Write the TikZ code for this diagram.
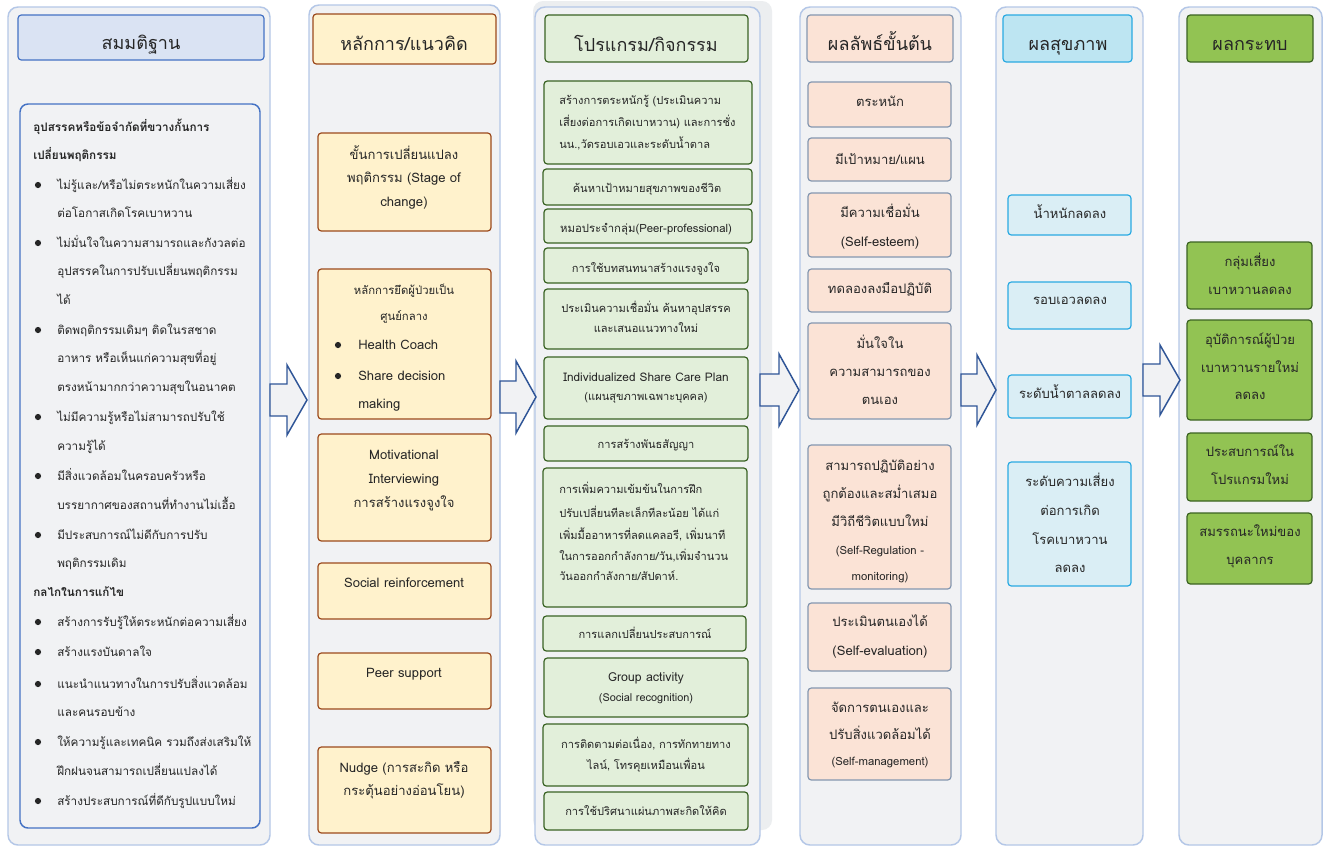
\documentclass[tikz,border=0pt]{standalone}
\usepackage{fontspec}
\setmainfont[Script=Thai]{Loma}
\definecolor{contfill}{HTML}{F1F2F4}
\definecolor{contbd}{HTML}{B4C7E7}
\definecolor{shadowc}{HTML}{ECEEF0}
\definecolor{cAfill}{HTML}{DAE3F3}
\definecolor{cAbd}{HTML}{4472C4}
\definecolor{cBfill}{HTML}{FFF2CC}
\definecolor{cBbd}{HTML}{9C4A1C}
\definecolor{cCfill}{HTML}{E2EFDA}
\definecolor{cCbd}{HTML}{3A6324}
\definecolor{cDfill}{HTML}{FBE3D6}
\definecolor{cDbd}{HTML}{8497B0}
\definecolor{cEhfill}{HTML}{BDE5F2}
\definecolor{cEfill}{HTML}{DAEEF5}
\definecolor{cEbd}{HTML}{2AAAE2}
\definecolor{cFfill}{HTML}{92C353}
\definecolor{cFbd}{HTML}{3B6322}
\definecolor{arrbd}{HTML}{2F5597}
\definecolor{txtc}{HTML}{262626}
\newcounter{tcnt}
\newcommand\Bx[6]{\node[bx,#1,minimum width={(#5-(#3))*0.75pt},minimum height={(#6-(#4))*0.75pt}] (#2) at ({(#3+#5)/2},{(#4+#6)/2}) {};}
\newcommand\Tx[4][]{\stepcounter{tcnt}\node[tl,#1] (t\arabic{tcnt}) at (#2,#3) {#4};}
\newcommand\Bul[2]{\fill[txtc] (#1,#2) circle (3.1);}
\newcommand\Arr[5]{\draw[arrsh] (#1,{#4-16}) -- (#3,{#4-16}) -- (#3,{#4-#5}) -- (#2,#4) -- (#3,{#4+#5}) -- (#3,{#4+16}) -- (#1,{#4+16}) -- cycle;}
\tikzset{
  cont/.style={draw=contbd, fill=contfill, line width=1.1pt, rounded corners=7.5pt},
  bx/.style={rectangle, inner sep=0pt, line width=0.9pt, rounded corners=2.5pt},
  hA/.style={fill=cAfill, draw=cAbd},
  hB/.style={fill=cBfill, draw=cBbd},
  hC/.style={fill=cCfill, draw=cCbd},
  hD/.style={fill=cDfill, draw=cDbd},
  hE/.style={fill=cEhfill, draw=cEbd},
  bE/.style={fill=cEfill, draw=cEbd},
  hF/.style={fill=cFfill, draw=cFbd},
  tl/.style={anchor=base, inner sep=0pt, yshift=-3pt, text=txtc, font=\fontsize{8.3}{10}\selectfont},
  L/.style={anchor=base west, font=\fontsize{8.8}{11}\selectfont},
  hd/.style={yshift=-4.5pt, font=\fontsize{13.5}{15}\selectfont},
  sm/.style={font=\fontsize{8.5}{10}\selectfont},
  lat/.style={font=\fontsize{9.3}{11}\selectfont},
  mid/.style={font=\fontsize{9.8}{12}\selectfont},
  arrsh/.style={draw=arrbd, fill=contfill, line width=1.1pt, line join=miter},
}
\begin{document}
\begin{tikzpicture}[x=0.75pt,y=-0.75pt]
\useasboundingbox (0,0) rectangle (1324,847);
\fill[white] (0,0) rectangle (1324,847);
% containers
\fill[shadowc, rounded corners=7.5pt] (533,1) rectangle (772,830);
\draw[cont] (8,7) rectangle (270,845);
\draw[cont] (309,5) rectangle (500,845);
\draw[cont] (535,7) rectangle (760,845);
\draw[cont] (800,7) rectangle (961,845);
\draw[cont] (996,7) rectangle (1143,845);
\draw[cont] (1179,7) rectangle (1322,845);
% arrows
\Arr{270}{307}{287}{400}{35}
\Arr{500}{536}{516}{397}{36}
\Arr{760}{799}{779}{390}{36}
\Arr{961}{996}{977}{390}{35}
\Arr{1143}{1180}{1160}{380}{35}
% ---------- column 1
\Bx{hA}{hA1}{18}{15}{264}{60}
\Tx[hd]{141}{39}{สมมติฐาน}
\Bx{fill=contfill,draw=cAbd,line width=1.1pt,rounded corners=6pt}{inA}{20}{104}{260}{828}
\Tx[L]{33}{127}{\bfseries อุปสรรคหรือข้อจำกัดที่ขวางกั้นการ}
\Tx[L]{33}{155}{\bfseries เปลี่ยนพฤติกรรม}
\Bul{38}{185}\Tx[L]{57}{185}{ไม่รู้และ/หรือไม่ตระหนักในความเสี่ยง}
\Tx[L]{57}{213}{ต่อโอกาสเกิดโรคเบาหวาน}
\Bul{38}{243}\Tx[L]{57}{243}{ไม่มั่นใจในความสามารถและกังวลต่อ}
\Tx[L]{57}{271}{อุปสรรคในการปรับเปลี่ยนพฤติกรรม}
\Tx[L]{57}{300}{ได้}
\Bul{38}{330}\Tx[L]{57}{330}{ติดพฤติกรรมเดิมๆ ติดในรสชาด}
\Tx[L]{57}{358}{อาหาร หรือเห็นแก่ความสุขที่อยู่}
\Tx[L]{57}{387}{ตรงหน้ามากกว่าความสุขในอนาคต}
\Bul{38}{417}\Tx[L]{57}{417}{ไม่มีความรู้หรือไม่สามารถปรับใช้}
\Tx[L]{57}{446}{ความรู้ได้}
\Bul{38}{476}\Tx[L]{57}{476}{มีสิ่งแวดล้อมในครอบครัวหรือ}
\Tx[L]{57}{505}{บรรยากาศของสถานที่ทำงานไม่เอื้อ}
\Bul{38}{535}\Tx[L]{57}{535}{มีประสบการณ์ไม่ดีกับการปรับ}
\Tx[L]{57}{563}{พฤติกรรมเดิม}
\Tx[L]{33}{592}{\bfseries กลไกในการแก้ไข}
\Bul{38}{622}\Tx[L]{57}{622}{สร้างการรับรู้ให้ตระหนักต่อความเสี่ยง}
\Bul{38}{652}\Tx[L]{57}{652}{สร้างแรงบันดาลใจ}
\Bul{38}{684}\Tx[L]{57}{684}{แนะนำแนวทางในการปรับสิ่งแวดล้อม}
\Tx[L]{57}{712}{และคนรอบข้าง}
\Bul{38}{742}\Tx[L]{57}{742}{ให้ความรู้และเทคนิค รวมถึงส่งเสริมให้}
\Tx[L]{57}{771}{ฝึกฝนจนสามารถเปลี่ยนแปลงได้}
\Bul{38}{801}\Tx[L]{57}{801}{สร้างประสบการณ์ที่ดีกับรูปแบบใหม่}
% ---------- column 2
\Bx{hB}{hB1}{313}{14}{496}{64}
\Tx[hd]{404}{40}{หลักการ/แนวคิด}
\Bx{hB}{b21}{318}{133}{491}{231}
\Tx[mid]{404}{155}{ขั้นการเปลี่ยนแปลง}
\Tx[mid]{404}{178}{พฤติกรรม (Stage of}
\Tx[mid]{404}{202}{change)}
\Bx{hB}{b22}{318}{269}{491}{419}
\Tx[sm]{404}{290}{หลักการยึดผู้ป่วยเป็น}
\Tx[sm]{404}{316}{ศูนย์กลาง}
\Bul{338}{345}\Tx[mid,anchor=base west]{358}{345}{Health Coach}
\Bul{338}{376}\Tx[mid,anchor=base west]{358}{376}{Share decision}
\Tx[mid,anchor=base west]{358}{404}{making}
\Bx{hB}{b23}{318}{434}{491}{541}
\Tx[mid]{404}{455}{Motivational}
\Tx[mid]{404}{479}{Interviewing}
\Tx[mid]{404}{503}{การสร้างแรงจูงใจ}
\Bx{hB}{b24}{318}{563}{491}{619}
\Tx[mid]{404}{583}{Social reinforcement}
\Bx{hB}{b25}{318}{653}{491}{709}
\Tx[mid]{404}{673}{Peer support}
\Bx{hB}{b26}{318}{747}{491}{833}
\Tx[mid]{404}{768}{Nudge (การสะกิด หรือ}
\Tx[mid]{404}{791}{กระตุ้นอย่างอ่อนโยน)}
% ---------- column 3
\Bx{hC}{hC1}{545}{15}{748}{62}
\Tx[hd]{646}{41}{โปรแกรม/กิจกรรม}
\Bx{hC}{b31}{544}{81}{752}{164}
\Tx[anchor=base west]{559}{100}{สร้างการตระหนักรู้ (ประเมินความ}
\Tx[anchor=base west]{559}{122}{เสี่ยงต่อการเกิดเบาหวาน) และการชั่ง}
\Tx[anchor=base west]{559}{144}{นน.,วัดรอบเอวและระดับน้ำตาล}
\Bx{hC}{b32}{543}{169}{752}{205}
\Tx{647}{188}{ค้นหาเป้าหมายสุขภาพของชีวิต}
\Bx{hC}{b33}{544}{209}{752}{243}
\Tx[font=\fontsize{8.5}{10}\selectfont]{646}{228}{หมอประจำกลุ่ม(Peer-professional)}
\Bx{hC}{b34}{544}{248}{748}{283}
\Tx{646}{268}{การใช้บทสนทนาสร้างแรงจูงใจ}
\Bx{hC}{b35}{544}{289}{748}{349}
\Tx{646}{308}{ประเมินความเชื่อมั่น ค้นหาอุปสรรค}
\Tx{646}{328}{และเสนอแนวทางใหม่}
\Bx{hC}{b36}{544}{357}{748}{419}
\Tx[font=\fontsize{8.9}{10}\selectfont]{646}{377}{Individualized Share Care Plan}
\Tx{646}{396}{(แผนสุขภาพเฉพาะบุคคล)}
\Bx{hC}{b37}{544}{426}{748}{461}
\Tx{646}{444}{การสร้างพันธสัญญา}
\Bx{hC}{b38}{543}{468}{747}{607}
\Tx[anchor=base west]{559}{489}{การเพิ่มความเข้มข้นในการฝึก}
\Tx[anchor=base west]{559}{513}{ปรับเปลี่ยนทีละเล็กทีละน้อย ได้แก่}
\Tx[anchor=base west]{559}{535}{เพิ่มมื้ออาหารที่ลดแคลอรี, เพิ่มนาที}
\Tx[anchor=base west]{559}{556}{ในการออกกำลังกาย/วัน,เพิ่มจำนวน}
\Tx[anchor=base west]{559}{576}{วันออกกำลังกาย/สัปดาห์.}
\Bx{hC}{b39}{543}{616}{746}{651}
\Tx{645}{634}{การแลกเปลี่ยนประสบการณ์}
\Bx{hC}{b310}{544}{658}{748}{717}
\Tx[lat]{646}{677}{Group activity}
\Tx[font=\fontsize{8.2}{10}\selectfont]{646}{697}{(Social recognition)}
\Bx{hC}{b311}{543}{724}{748}{786}
\Tx{646}{744}{การติดตามต่อเนื่อง, การทักทายทาง}
\Tx{646}{765}{ไลน์, โทรคุยเหมือนเพื่อน}
\Bx{hC}{b312}{544}{792}{748}{830}
\Tx{646}{811}{การใช้ปริศนาแผ่นภาพสะกิดให้คิด}
% ---------- column 4
\Bx{hD}{hD1}{807}{15}{953}{62}
\Tx[hd]{880}{40}{ผลลัพธ์ขั้นต้น}
\Bx{hD}{b41}{808}{82}{951}{127}
\Tx[mid]{880}{102}{ตระหนัก}
\Bx{hD}{b42}{808}{138}{951}{181}
\Tx[mid]{880}{160}{มีเป้าหมาย/แผน}
\Bx{hD}{b43}{808}{193}{951}{257}
\Tx[mid]{880}{213}{มีความเชื่อมั่น}
\Tx[mid]{880}{242}{(Self-esteem)}
\Bx{hD}{b44}{808}{269}{951}{312}
\Tx[mid]{880}{289}{ทดลองลงมือปฏิบัติ}
\Bx{hD}{b45}{808}{323}{951}{419}
\Tx[mid]{880}{344}{มั่นใจใน}
\Tx[mid]{880}{372}{ความสามารถของ}
\Tx[mid]{880}{400}{ตนเอง}
\Bx{hD}{b46}{808}{445}{951}{589}
\Tx[mid]{880}{466}{สามารถปฏิบัติอย่าง}
\Tx[mid]{880}{494}{ถูกต้องและสม่ำเสมอ}
\Tx[mid]{880}{522}{มีวิถีชีวิตแบบใหม่}
\Tx[sm]{880}{550}{(Self-Regulation -}
\Tx[sm]{880}{576}{monitoring)}
\Bx{hD}{b47}{808}{603}{951}{671}
\Tx[mid]{880}{622}{ประเมินตนเองได้}
\Tx[mid]{880}{651}{(Self-evaluation)}
\Bx{hD}{b48}{808}{688}{951}{780}
\Tx[mid]{880}{708}{จัดการตนเองและ}
\Tx[mid]{880}{735}{ปรับสิ่งแวดล้อมได้}
\Tx[sm]{880}{761}{(Self-management)}
% ---------- column 5
\Bx{hE}{hE1}{1003}{15}{1132}{62}
\Tx[hd]{1068}{40}{ผลสุขภาพ}
\Bx{bE}{b51}{1008}{195}{1131}{235}
\Tx[mid]{1070}{214}{น้ำหนักลดลง}
\Bx{bE}{b52}{1008}{282}{1131}{329}
\Tx[mid]{1070}{300}{รอบเอวลดลง}
\Bx{bE}{b53}{1008}{375}{1131}{418}
\Tx[mid]{1070}{394}{ระดับน้ำตาลลดลง}
\Bx{bE}{b54}{1008}{462}{1131}{586}
\Tx[mid]{1070}{482}{ระดับความเสี่ยง}
\Tx[mid]{1070}{511}{ต่อการเกิด}
\Tx[mid]{1070}{540}{โรคเบาหวาน}
\Tx[mid]{1070}{568}{ลดลง}
% ---------- column 6
\Bx{hF}{hF1}{1187}{15}{1313}{62}
\Tx[hd]{1250}{40}{ผลกระทบ}
\Bx{hF}{b61}{1187}{242}{1312}{309}
\Tx[mid]{1250}{262}{กลุ่มเสี่ยง}
\Tx[mid]{1250}{290}{เบาหวานลดลง}
\Bx{hF}{b62}{1187}{320}{1312}{420}
\Tx[mid]{1250}{340}{อุบัติการณ์ผู้ป่วย}
\Tx[mid]{1250}{368}{เบาหวานรายใหม่}
\Tx[mid]{1250}{395}{ลดลง}
\Bx{hF}{b63}{1187}{433}{1312}{501}
\Tx[mid]{1250}{452}{ประสบการณ์ใน}
\Tx[mid]{1250}{480}{โปรแกรมใหม่}
\Bx{hF}{b64}{1187}{513}{1312}{584}
\Tx[mid]{1250}{532}{สมรรถนะใหม่ของ}
\Tx[mid]{1250}{560}{บุคลากร}
\end{tikzpicture}
\end{document}
